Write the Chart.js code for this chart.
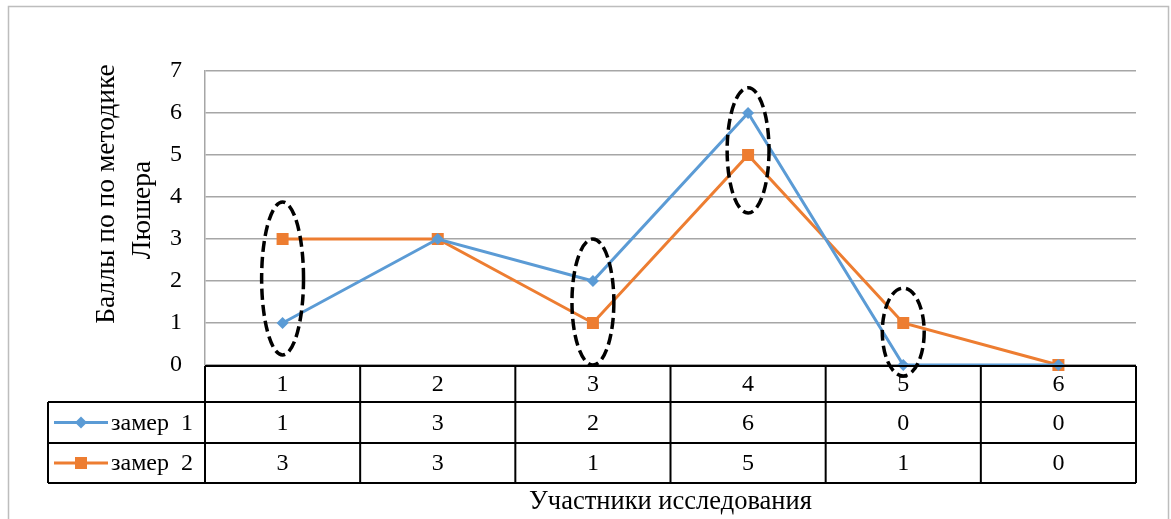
<!DOCTYPE html>
<html>
<head>
<meta charset="utf-8">
<script src="https://cdn.jsdelivr.net/npm/chart.js@4/dist/chart.umd.min.js"></script>
<style>
  html, body { margin: 0; padding: 0; background: #ffffff; }
  #wrap { width: 1171px; height: 519px; position: relative; }
</style>
</head>
<body>
<div id="wrap"><canvas id="c" width="1171" height="519"></canvas></div>
<script>
// Participants and the two measurements (scores by Lüscher's method)
const categories = ['1', '2', '3', '4', '5', '6'];
const seriesNames = ['замер 1', 'замер 2'];
const zamer1 = [1, 3, 2, 6, 0, 0];
const zamer2 = [3, 3, 1, 5, 1, 0];
const yTickLabels = ['0', '1', '2', '3', '4', '5', '6', '7'];

// Participants circled with dashed outlines, and the score range each outline spans
const circledCategories = ['1', '3', '4', '5'];
const circledLow = [0.24, 0.0, 3.62, -0.26];
const circledHigh = [3.88, 3.0, 6.6, 1.83];

const titleY = ['Баллы по по методике', 'Люшера'];
const titleX = 'Участники исследования';

const BLUE = '#5B9BD5';
const ORANGE = '#ED7D31';
const SERIF = '"Liberation Serif", "Times New Roman", serif';

function drawMarker(ctx, style, x, y, color) {
  ctx.save();
  ctx.fillStyle = color;
  ctx.beginPath();
  if (style === 'rectRot') {
    const r = 6;
    ctx.moveTo(x, y - r); ctx.lineTo(x + r, y); ctx.lineTo(x, y + r); ctx.lineTo(x - r, y);
    ctx.closePath();
  } else {
    ctx.rect(x - 6, y - 6, 12, 12);
  }
  ctx.fill();
  ctx.restore();
}

// Frame around the whole figure
const framePlugin = {
  id: 'frame',
  beforeDraw(chart) {
    const ctx = chart.ctx;
    ctx.save();
    ctx.fillStyle = '#ffffff';
    ctx.fillRect(0, 0, chart.width, chart.height);
    ctx.strokeStyle = '#bdbdbd';
    ctx.lineWidth = 1.5;
    ctx.strokeRect(8.5, 6.5, 1160, 540);
    ctx.restore();
  }
};

// Dashed ellipses around selected participants
const ellipsePlugin = {
  id: 'ellipses',
  afterDatasetsDraw(chart) {
    const ctx = chart.ctx;
    const xs = chart.scales.x, ys = chart.scales.y;
    const step = xs.getPixelForValue(1) - xs.getPixelForValue(0);
    ctx.save();
    ctx.strokeStyle = '#000000';
    ctx.lineWidth = 3.5;
    ctx.setLineDash([11, 5]);
    circledCategories.forEach((cat, i) => {
      const cx = xs.getPixelForValue(categories.indexOf(cat));
      const top = ys.getPixelForValue(circledHigh[i]);
      const bot = ys.getPixelForValue(circledLow[i]);
      ctx.beginPath();
      ctx.ellipse(cx, (top + bot) / 2, step * 0.135, (bot - top) / 2, 0, 0, Math.PI * 2);
      ctx.stroke();
    });
    ctx.restore();
  }
};

// Data table under the plot, axis titles
const tablePlugin = {
  id: 'dataTable',
  afterDraw(chart) {
    const ctx = chart.ctx;
    const xs = chart.scales.x;
    const area = chart.chartArea;
    const step = xs.getPixelForValue(1) - xs.getPixelForValue(0);
    const left = area.left, right = area.right;
    const legendLeft = 48;
    const r0 = area.bottom + 1, r1 = r0 + 36, r2 = r1 + 41, r3 = r2 + 40;

    ctx.save();
    ctx.strokeStyle = '#000000';
    ctx.lineWidth = 2;
    ctx.beginPath();
    ctx.moveTo(left, r0); ctx.lineTo(right, r0);
    ctx.moveTo(legendLeft, r1); ctx.lineTo(right, r1);
    ctx.moveTo(legendLeft, r2); ctx.lineTo(right, r2);
    ctx.moveTo(legendLeft, r3); ctx.lineTo(right, r3);
    ctx.moveTo(legendLeft, r1); ctx.lineTo(legendLeft, r3);
    for (let i = 0; i <= categories.length; i++) {
      const x = xs.getPixelForValue(i) - step / 2;
      ctx.moveTo(x, r0); ctx.lineTo(x, r3);
    }
    ctx.stroke();

    ctx.fillStyle = '#000000';
    ctx.font = '24px ' + SERIF;
    ctx.textAlign = 'center';
    ctx.textBaseline = 'middle';
    categories.forEach((c, i) => {
      const x = xs.getPixelForValue(i);
      ctx.fillText(c, x, (r0 + r1) / 2 + 1);
      ctx.fillText(String(zamer1[i]), x, (r1 + r2) / 2 + 1);
      ctx.fillText(String(zamer2[i]), x, (r2 + r3) / 2 + 1);
    });

    // legend keys in the first column
    const rows = [[(r1 + r2) / 2, BLUE, 'rectRot'], [(r2 + r3) / 2, ORANGE, 'rect']];
    rows.forEach(([y, color, style], k) => {
      ctx.strokeStyle = color;
      ctx.lineWidth = 3;
      ctx.beginPath();
      ctx.moveTo(54, y); ctx.lineTo(108, y);
      ctx.stroke();
      drawMarker(ctx, style, 81, y, color);
      ctx.fillStyle = '#000000';
      ctx.textAlign = 'left';
      ctx.fillText(seriesNames[k].replace(' ', '\u2002'), 111, y + 1);
    });

    // axis titles
    ctx.textAlign = 'center';
    ctx.font = '26.5px ' + SERIF;
    ctx.fillText(titleX, (left + right) / 2, 502);

    ctx.font = '27.5px ' + SERIF;
    ctx.save();
    ctx.translate(107, 194);
    ctx.rotate(-Math.PI / 2);
    ctx.fillText(titleY[0], 0, 0);
    ctx.restore();
    ctx.save();
    ctx.translate(143, 210);
    ctx.rotate(-Math.PI / 2);
    ctx.fillText(titleY[1], 0, 0);
    ctx.restore();
    ctx.restore();
  }
};

new Chart(document.getElementById('c'), {
  type: 'line',
  data: {
    labels: categories,
    datasets: [
      {
        label: seriesNames[0],
        data: zamer1,
        borderColor: BLUE,
        backgroundColor: BLUE,
        borderWidth: 3,
        pointStyle: 'rectRot',
        pointRadius: 6,
        pointBorderWidth: 0,
        tension: 0,
        clip: false
      },
      {
        label: seriesNames[1],
        data: zamer2,
        borderColor: ORANGE,
        backgroundColor: ORANGE,
        borderWidth: 3,
        pointStyle: 'rect',
        pointRadius: 8.5,
        pointBorderWidth: 0,
        tension: 0,
        clip: false
      }
    ]
  },
  options: {
    responsive: false,
    animation: false,
    devicePixelRatio: 1,
    layout: { padding: { left: 0, top: 71, right: 35, bottom: 154 } },
    plugins: { legend: { display: false }, tooltip: { enabled: false } },
    scales: {
      x: {
        type: 'category',
        offset: true,
        display: false
      },
      y: {
        min: 0,
        max: 7,
        afterFit(scale) { scale.width = 205; },
        afterBuildTicks(scale) {
          scale.ticks = yTickLabels.map(t => ({ value: Number(t) }));
        },
        ticks: {
          padding: 23,
          color: '#000000',
          font: { family: SERIF, size: 24 },
          callback: (v) => yTickLabels[v]
        },
        grid: { color: '#a6a6a6', lineWidth: 1.5, drawTicks: false },
        border: { color: '#a6a6a6', width: 1.5 }
      }
    }
  },
  plugins: [framePlugin, ellipsePlugin, tablePlugin]
});
</script>
</body>
</html>
